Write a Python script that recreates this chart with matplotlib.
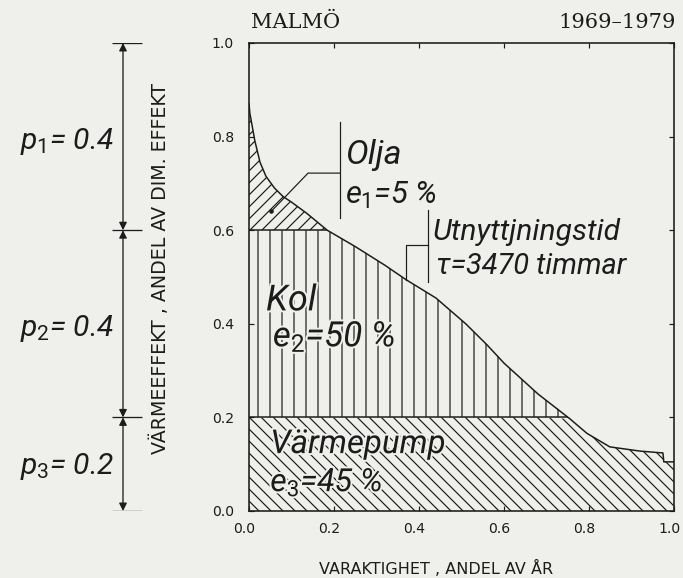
import numpy as np
import matplotlib
matplotlib.use('Agg')
import matplotlib.pyplot as plt
import matplotlib.patheffects as pe
import matplotlib.transforms as mtransforms

# varaktighetskurva, Malmö 1969-1979
duration = [0.0, 0.002, 0.006, 0.014, 0.026, 0.04, 0.06, 0.08, 0.10, 0.136,
            0.184, 0.25, 0.32, 0.37, 0.44, 0.51, 0.56, 0.60, 0.68, 0.755,
            0.795, 0.849, 0.92, 0.974, 0.976, 1.0]
load = [0.87, 0.85, 0.83, 0.79, 0.745, 0.715, 0.69, 0.672, 0.66, 0.636,
        0.60, 0.565, 0.525, 0.494, 0.455, 0.40, 0.355, 0.316, 0.25, 0.197,
        0.166, 0.137, 0.128, 0.124, 0.105, 0.105]

# effektandelar nerifrån och upp: värmepump, kol, olja
p_shares = [0.2, 0.4, 0.4]
e_shares = [45, 50, 5]
fuels = ['Värmepump', 'Kol', 'Olja']
tau_hours = 3470
ticks = [0.0, 0.2, 0.4, 0.6, 0.8, 1.0]

ink = '#1c1c1c'
bg = '#efefec'
W, H = 683, 578
plt.rcParams['hatch.linewidth'] = 1.2
plt.rcParams['hatch.color'] = ink
plt.rcParams['mathtext.fontset'] = 'custom'
plt.rcParams['mathtext.rm'] = 'Roboto'
plt.rcParams['mathtext.it'] = 'Roboto:italic'

fig = plt.figure(figsize=(W / 72, H / 72), dpi=72)
fig.patch.set_facecolor(bg)

ax = fig.add_axes([249 / W, 67 / H, 425 / W, 468 / H])
ax.set_facecolor(bg)

dur = np.array(duration)
ld = np.array(load)
levels = np.cumsum(p_shares)

# ytor
ax.fill_between(dur, 0, np.minimum(ld, levels[0]), hatch='\\\\', facecolor='none',
                edgecolor=ink, linewidth=0)
ax.fill_between(dur, levels[0], np.clip(ld, levels[0], levels[1]), hatch='|',
                facecolor='none', edgecolor=ink, linewidth=0)
ax.fill_between(dur, levels[1], np.maximum(ld, levels[1]), hatch='//',
                facecolor='none', edgecolor=ink, linewidth=0)

ax.plot(dur, ld, color=ink, lw=1.5)
x_ends = [np.interp(lv, ld[::-1], dur[::-1]) for lv in levels[:2]]
ax.hlines(levels[:2], 0, x_ends, color=ink, lw=1.5)

# hänvisningslinjer
ax.plot([0.052, 0.139, 0.214], [0.64, 0.722, 0.722], color=ink, lw=1.2)
ax.plot([0.052], [0.64], 'o', color=ink, ms=3.5)
ax.plot([0.214, 0.214], [0.626, 0.831], color=ink, lw=1.2)
ax.plot([0.421, 0.421], [0.489, 0.643], color=ink, lw=1.2)
ax.plot([0.421, 0.369, 0.369], [0.568, 0.568, np.interp(0.369, dur, ld)],
        color=ink, lw=1.2)

hand = dict(color=ink, style='italic', family='Roboto', va='center', ha='left')
halo = [pe.withStroke(linewidth=4, foreground=bg)]
ax.text(0.226, 0.76, fuels[2], fontsize=34, **hand)
ax.text(0.226, 0.675, f'$e_1$={e_shares[2]} %', fontsize=31, **hand)
ax.text(0.433, 0.596, 'Utnyttjningstid', fontsize=30, **hand)
ax.text(0.44, 0.523, f'τ={tau_hours} timmar', fontsize=29, **hand)
ax.text(0.04, 0.45, fuels[1], fontsize=36, path_effects=halo, **hand)
ax.text(0.056, 0.372, f'$e_2$={e_shares[1]} %', fontsize=35, path_effects=halo, **hand)
ax.text(0.05, 0.143, fuels[0], fontsize=33, path_effects=halo, **hand)
ax.text(0.05, 0.06, f'$e_3$={e_shares[0]} %', fontsize=32, path_effects=halo, **hand)

ax.set_xlim(0, 1)
ax.set_ylim(0, 1)
ax.set_xticks(ticks)
ax.set_yticks(ticks)
ax.set_xticklabels([f'{t:.1f}' for t in ticks])
ax.set_yticklabels([f'{t:.1f}' for t in ticks])
ax.tick_params(direction='in', top=True, right=True, length=5, width=1.2,
               labelsize=14, colors=ink)
ax.tick_params(axis='x', pad=11)
ax.tick_params(axis='y', pad=15)
shift = mtransforms.ScaledTranslation(-5 / 72, 0, fig.dpi_scale_trans)
for lab in ax.get_xticklabels():
    lab.set_transform(lab.get_transform() + shift)
for s in ax.spines.values():
    s.set_linewidth(1.6)
    s.set_color(ink)

fig.text(251 / W, 1 - 22 / H, 'MALMÖ', family='DejaVu Serif', fontsize=21,
         color=ink, ha='left', va='center')
fig.text(676 / W, 1 - 22 / H, '1969–1979', family='DejaVu Serif', fontsize=21,
         color=ink, ha='right', va='center')
fig.text(436 / W, 10 / H, 'VARAKTIGHET , ANDEL AV ÅR', fontsize=16, color=ink,
         ha='center', va='center')
fig.text(160 / W, 1 - 269 / H, 'VÄRMEEFFEKT , ANDEL AV DIM. EFFEKT', fontsize=19,
         color=ink, rotation=90, ha='center', va='center')

# effektfördelning till vänster
axl = fig.add_axes([0, 67 / H, 240 / W, 468 / H])
axl.set_xlim(0, 240)
axl.set_ylim(0, 1)
axl.axis('off')
bounds = np.concatenate([[0], levels])
axl.hlines(bounds, 112, 142, color=ink, lw=1.3)
for lo, hi in zip(bounds[:-1], bounds[1:]):
    axl.annotate('', xy=(123, lo), xytext=(123, hi),
                 arrowprops=dict(arrowstyle='<|-|>', color=ink, lw=1.3,
                                 shrinkA=0, shrinkB=0, mutation_scale=16))
for i, (p, ymid) in enumerate(zip(p_shares, [0.095, 0.39, 0.79])):
    n = len(p_shares) - i
    axl.text(20, ymid, f'$p_{n}$= {p}', fontsize=30, **hand)

fig.savefig('out.png', dpi=72, facecolor=bg)
